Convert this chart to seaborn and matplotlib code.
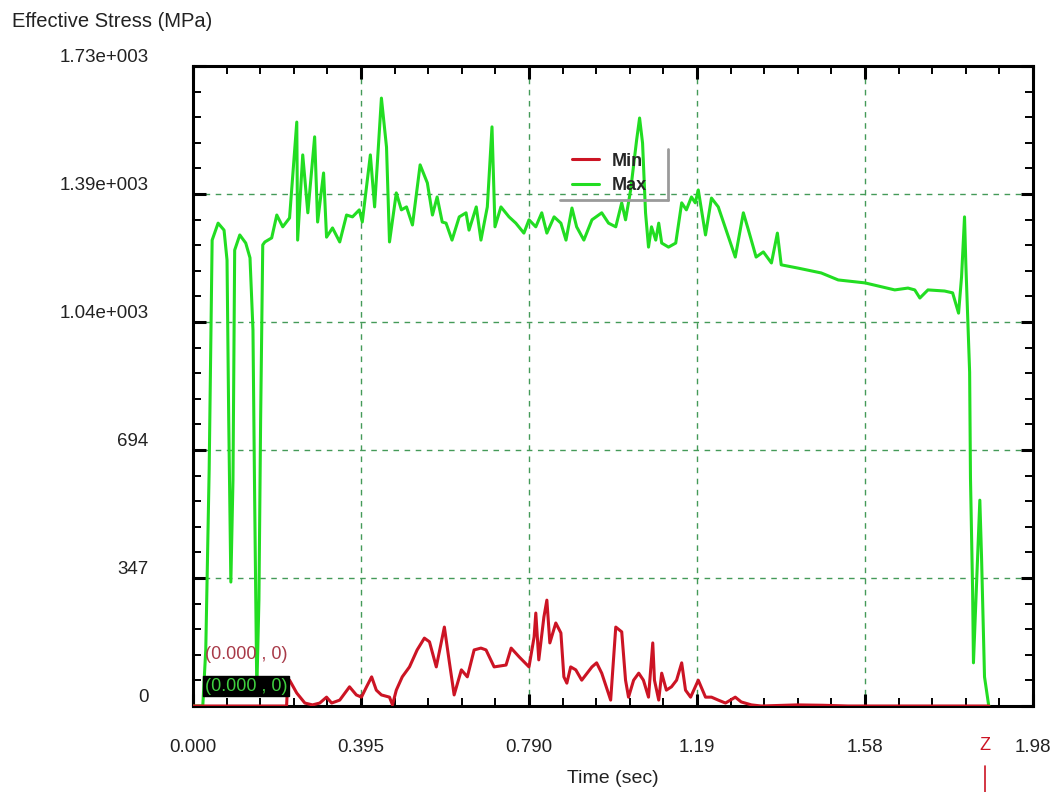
import matplotlib
matplotlib.use("Agg")
import matplotlib.pyplot as plt
import matplotlib.transforms as mtransforms
from matplotlib.lines import Line2D
from matplotlib.ticker import FixedLocator, AutoMinorLocator
import pandas as pd
import seaborn as sns

# Max effective stress (green curve)
max_time = [0.000, 0.023, 0.030, 0.038, 0.045, 0.059, 0.073, 0.080, 0.084, 0.089,
            0.094, 0.098, 0.110, 0.124, 0.134, 0.141, 0.145, 0.150, 0.155, 0.159,
            0.164, 0.169, 0.185, 0.197, 0.211, 0.227, 0.244, 0.246, 0.258, 0.270,
            0.286, 0.293, 0.307, 0.314, 0.328, 0.345, 0.361, 0.375, 0.391, 0.398,
            0.417, 0.427, 0.443, 0.455, 0.462, 0.478, 0.490, 0.502, 0.516, 0.534,
            0.551, 0.563, 0.574, 0.586, 0.595, 0.609, 0.626, 0.642, 0.649, 0.666,
            0.677, 0.692, 0.703, 0.710, 0.724, 0.743, 0.759, 0.778, 0.790, 0.806,
            0.820, 0.832, 0.849, 0.865, 0.877, 0.891, 0.902, 0.919, 0.938, 0.961,
            0.977, 0.994, 1.008, 1.017, 1.029, 1.043, 1.050, 1.057, 1.064, 1.071,
            1.078, 1.088, 1.095, 1.102, 1.118, 1.135, 1.149, 1.160, 1.172, 1.181,
            1.188, 1.205, 1.219, 1.235, 1.259, 1.275, 1.294, 1.306, 1.324, 1.341,
            1.360, 1.374, 1.383, 1.423, 1.477, 1.517, 1.580, 1.650, 1.681, 1.697,
            1.709, 1.728, 1.767, 1.786, 1.800, 1.807, 1.814, 1.817, 1.826, 1.828,
            1.833, 1.835, 1.840, 1.850, 1.854, 1.861, 1.871]
max_stress = [0, 0, 152, 640, 1263, 1309, 1290, 1209, 775, 336,
              613, 1236, 1277, 1255, 1215, 1019, 558, 43, 287, 775,
              1250, 1258, 1269, 1331, 1299, 1323, 1583, 1263, 1494, 1337,
              1543, 1312, 1445, 1271, 1296, 1258, 1331, 1326, 1345, 1312,
              1494, 1353, 1648, 1515, 1258, 1391, 1345, 1353, 1304, 1467,
              1418, 1331, 1380, 1312, 1309, 1263, 1326, 1337, 1290, 1353,
              1263, 1353, 1570, 1299, 1353, 1326, 1309, 1282, 1318, 1299,
              1337, 1282, 1326, 1309, 1263, 1350, 1299, 1263, 1318, 1337,
              1309, 1299, 1364, 1318, 1399, 1534, 1594, 1526, 1337, 1244,
              1299, 1263, 1309, 1255, 1244, 1255, 1364, 1345, 1380, 1364,
              1399, 1277, 1377, 1353, 1271, 1217, 1337, 1290, 1217, 1231,
              1201, 1282, 1196, 1187, 1174, 1155, 1147, 1128, 1133, 1128,
              1106, 1128, 1125, 1120, 1065, 1163, 1326, 1201, 905, 618,
              312, 117, 266, 558, 404, 79, 0]

# Min effective stress (red curve)
min_time = [0.000, 0.220, 0.223, 0.227, 0.244, 0.263, 0.281, 0.298, 0.314, 0.326,
            0.345, 0.368, 0.384, 0.396, 0.408, 0.420, 0.431, 0.443, 0.462, 0.469,
            0.478, 0.492, 0.509, 0.527, 0.544, 0.556, 0.572, 0.591, 0.602, 0.614,
            0.631, 0.645, 0.661, 0.677, 0.689, 0.708, 0.736, 0.748, 0.767, 0.790,
            0.802, 0.806, 0.813, 0.825, 0.832, 0.839, 0.853, 0.865, 0.872, 0.879,
            0.888, 0.900, 0.914, 0.938, 0.949, 0.961, 0.982, 0.994, 1.008, 1.017,
            1.024, 1.036, 1.048, 1.059, 1.071, 1.081, 1.085, 1.095, 1.102, 1.113,
            1.125, 1.137, 1.149, 1.158, 1.170, 1.188, 1.205, 1.219, 1.235, 1.252,
            1.275, 1.289, 1.313, 1.336, 1.420, 1.480, 1.540, 1.871]
min_stress = [0, 0, 70, 70, 35, 8, 3, 8, 24, 8,
              16, 52, 30, 24, 52, 79, 43, 30, 24, 3,
              43, 79, 106, 152, 184, 174, 106, 214, 125, 30,
              98, 79, 152, 157, 152, 106, 111, 157, 133, 106,
              187, 252, 125, 241, 287, 171, 225, 198, 79, 62,
              106, 98, 70, 106, 117, 89, 16, 214, 201, 70,
              24, 70, 89, 70, 24, 171, 70, 16, 89, 43,
              52, 70, 117, 43, 24, 70, 24, 24, 16, 8,
              24, 11, 3, 0, 3, 2, 0, 0]

x_ticks = [0.0, 0.395, 0.790, 1.185, 1.580, 1.975]
x_labels = ["0.000", "0.395", "0.790", "1.19", "1.58", "1.98"]
y_ticks = [0, 347, 694, 1041, 1388, 1735]
y_labels = ["0", "347", "694", "1.04e+003", "1.39e+003", "1.73e+003"]

green = "#22dd22"
red = "#cc1424"

sns.set_style("ticks")
plt.rcParams["font.family"] = ["Liberation Sans", "DejaVu Sans"]

fig = plt.figure(figsize=(10.58, 7.92), dpi=100)
ax = fig.add_axes([193 / 1058, 86 / 792, 840 / 1058, 640 / 792])

max_df = pd.DataFrame({"time": max_time, "stress": max_stress})
min_df = pd.DataFrame({"time": min_time, "stress": min_stress})
sns.lineplot(data=max_df, x="time", y="stress", color=green, linewidth=2.2,
             estimator=None, ax=ax, label="Max", zorder=3)
sns.lineplot(data=min_df, x="time", y="stress", color=red, linewidth=2.2,
             estimator=None, ax=ax, label="Min", zorder=4)

ax.set_xlim(0, 1.975)
ax.set_ylim(0, 1735)
ax.xaxis.set_major_locator(FixedLocator(x_ticks))
ax.yaxis.set_major_locator(FixedLocator(y_ticks))
ax.set_xticklabels(x_labels)
ax.set_yticklabels(y_labels)
ax.xaxis.set_minor_locator(AutoMinorLocator(5))
ax.yaxis.set_minor_locator(AutoMinorLocator(5))

ax.tick_params(which="both", direction="in", top=True, right=True,
               colors="black", labelcolor="#222222", labelsize=13.5)
ax.tick_params(which="major", length=9, width=2.2)
ax.tick_params(which="minor", length=6, width=1.4)
ax.tick_params(axis="y", which="major", pad=32)
ax.tick_params(axis="x", which="major", pad=24)

for side in ["top", "right", "bottom", "left"]:
    ax.spines[side].set_visible(True)
    ax.spines[side].set_color("black")
    ax.spines[side].set_linewidth(2.2)

ax.grid(True, which="major", color="#449a58", linestyle=(0, (4, 4)), linewidth=1.0)
ax.set_axisbelow(True)

# y tick labels sit a little above their ticks
shift = mtransforms.ScaledTranslation(0, 10 / 100, fig.dpi_scale_trans)
for lbl in ax.get_yticklabels():
    lbl.set_transform(lbl.get_transform() + shift)

ax.set_xlabel("Time (sec)", fontsize=14, color="#222222", labelpad=10)
ax.set_ylabel("Effective Stress (MPa)", fontsize=14.5, color="#222222",
              rotation=0, ha="left", va="center")
ax.yaxis.set_label_coords(-0.2155, 1.069)

# legend, transparent with a grey drop shadow
handles, labels = ax.get_legend_handles_labels()
order = [labels.index("Min"), labels.index("Max")]
ax.legend([handles[i] for i in order], [labels[i] for i in order],
          loc="upper left", bbox_to_anchor=(0.432, 0.89), frameon=False,
          prop={"weight": "bold", "size": 13}, handlelength=1.5,
          handletextpad=0.7, labelspacing=0.4)
ax.add_line(Line2D([0.565, 0.565], [0.79, 0.87], transform=ax.transAxes,
                   color="#9a9a9a", linewidth=2, zorder=6))
ax.add_line(Line2D([0.437, 0.565], [0.79, 0.79], transform=ax.transAxes,
                   color="#9a9a9a", linewidth=2, zorder=6))

# probe readouts at the origin
ax.text(0.014, 0.080, "(0.000 , 0)", transform=ax.transAxes, color="#a83a48",
        fontsize=13, ha="left", va="center", zorder=7)
ax.text(0.014, 0.031, "(0.000 , 0)", transform=ax.transAxes, color="#3fcf3f",
        fontsize=13, ha="left", va="center", zorder=7,
        bbox=dict(boxstyle="square,pad=0.1", facecolor="black", edgecolor="black"))

# axis marker at the right end
fig.text(985 / 1058, 1 - 745 / 792, "Z", color=red, fontsize=13, ha="center", va="center")
fig.add_artist(Line2D([985 / 1058, 985 / 1058], [0.0, 1 - 766 / 792],
                      transform=fig.transFigure, color=red, linewidth=1.2))

fig.savefig("out.png", dpi=100)
